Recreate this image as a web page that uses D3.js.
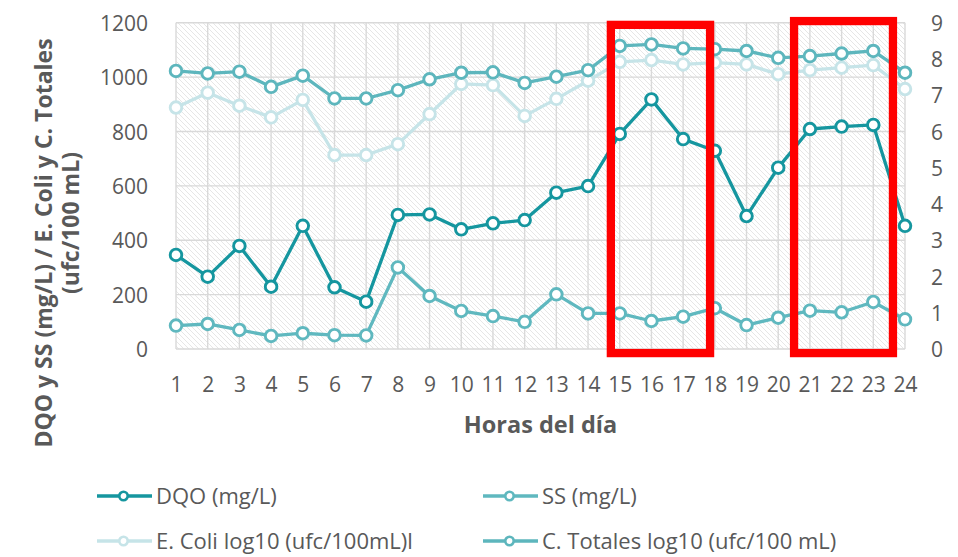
<!DOCTYPE html>
<html>
<head>
<meta charset="utf-8">
<script src="https://cdn.jsdelivr.net/npm/d3@7"></script>
<style>
  body { margin: 0; background: #fff; }
  text { font-family: "Open Sans", sans-serif; fill: #595959; }
</style>
</head>
<body>
<div id="chart"></div>
<script>
// data
const hours = d3.range(1, 25);
const dqo = [346, 266, 379, 229, 453, 227, 174, 493, 495, 440, 462, 474,
             575, 599, 791, 918, 772, 729, 489, 667, 809, 818, 824, 453];
const ss = [86, 92, 70, 48, 58, 51, 50, 300, 195, 140, 121, 100,
            201, 131, 131, 103, 119, 150, 88, 115, 141, 135, 173, 109];
const eColi = [6.66, 7.07, 6.71, 6.39, 6.87, 5.35, 5.35, 5.65, 6.48, 7.31, 7.28, 6.43,
               6.90, 7.40, 7.92, 7.97, 7.85, 7.90, 7.85, 7.58, 7.69, 7.76, 7.83, 7.17];
const cTotales = [7.67, 7.60, 7.65, 7.23, 7.54, 6.91, 6.91, 7.14, 7.44, 7.62, 7.63, 7.34,
                  7.51, 7.69, 8.36, 8.40, 8.29, 8.27, 8.22, 8.03, 8.08, 8.15, 8.22, 7.62];
const leftTicks = [0, 200, 400, 600, 800, 1000, 1200];
const rightTicks = [0, 1, 2, 3, 4, 5, 6, 7, 8, 9];
// red highlight boxes: [hour from, hour to, top (left axis units)]
const boxes = [[14.72, 17.85, 1192], [20.5, 23.62, 1206]];
const boxBottom = -15;

const series = [
  { name: "DQO (mg/L)", values: dqo, axis: "left", color: "#15969f" },
  { name: "SS (mg/L)", values: ss, axis: "left", color: "#5fb8bf" },
  { name: "E. Coli log10 (ufc/100mL)l", values: eColi, axis: "right", color: "#c6e4e8" },
  { name: "C. Totales log10 (ufc/100 mL)", values: cTotales, axis: "right", color: "#5db6bd" }
];

// dimensions
const w = 958;
const h = 557;
const plotLeft = 176;
const plotRight = 905;
const plotTop = 22.7;
const plotBot = 349;

const svg = d3.select("#chart")
  .append("svg")
  .attr("width", w)
  .attr("height", h);

// scales
const xScale = d3.scaleLinear().domain([1, 24]).range([plotLeft, plotRight]);
const yLeft = d3.scaleLinear().domain([0, 1200]).range([plotBot, plotTop]);
const yRight = d3.scaleLinear().domain([0, 9]).range([plotBot, plotTop]);

// hatched background
const pat = svg.append("defs").append("pattern")
  .attr("id", "hatch")
  .attr("patternUnits", "userSpaceOnUse")
  .attr("width", 5)
  .attr("height", 5);
pat.append("rect").attr("width", 5).attr("height", 5).attr("fill", "#fff");
pat.append("path")
  .attr("d", "M0,0L5,5M-1,4L1,6M4,-1L6,1")
  .attr("stroke", "#e6e6e6")
  .attr("stroke-width", 1);

svg.append("rect")
  .attr("x", plotLeft)
  .attr("y", plotTop)
  .attr("width", plotRight - plotLeft)
  .attr("height", plotBot - plotTop)
  .attr("fill", "url(#hatch)");

// gridlines
svg.append("g")
  .selectAll("line")
  .data(leftTicks)
  .enter()
  .append("line")
  .attr("x1", plotLeft)
  .attr("x2", plotRight)
  .attr("y1", d => yLeft(d))
  .attr("y2", d => yLeft(d))
  .attr("stroke", "#d9d9d9")
  .attr("stroke-width", 1.4);
svg.append("g")
  .selectAll("line")
  .data(hours)
  .enter()
  .append("line")
  .attr("x1", d => xScale(d))
  .attr("x2", d => xScale(d))
  .attr("y1", plotTop)
  .attr("y2", plotBot)
  .attr("stroke", "#d9d9d9")
  .attr("stroke-width", 1.4);

// axes (labels only, no domain/ticks)
const xAxis = d3.axisBottom(xScale).tickValues(hours).tickSize(0).tickPadding(0).tickFormat(d3.format("d"));
const xg = svg.append("g").attr("transform", `translate(0, 392)`).call(xAxis);
const yAxisL = d3.axisLeft(yLeft).tickValues(leftTicks).tickSize(0).tickPadding(0).tickFormat(d3.format("d"));
const ylg = svg.append("g").attr("transform", `translate(148, 0)`).call(yAxisL);
const yAxisR = d3.axisRight(yRight).tickValues(rightTicks).tickSize(0).tickPadding(0).tickFormat(d3.format("d"));
const yrg = svg.append("g").attr("transform", `translate(931, 0)`).call(yAxisR);
[xg, ylg, yrg].forEach(g => {
  g.select(".domain").remove();
  g.selectAll("text")
    .style("font-size", "21px")
    .attr("fill", "#595959");
});
xg.selectAll("text").attr("dy", 0);
ylg.selectAll("text").attr("dy", "0.36em");
yrg.selectAll("text").attr("dy", "0.36em");

// axis titles
svg.append("text")
  .text("Horas del día")
  .attr("x", (plotLeft + plotRight) / 2)
  .attr("y", 433)
  .attr("text-anchor", "middle")
  .style("font-size", "23.5px")
  .style("font-weight", "bold");
svg.append("text")
  .text("DQO y SS (mg/L) / E. Coli y C. Totales")
  .attr("transform", "translate(52, 243) rotate(-90)")
  .attr("text-anchor", "middle")
  .style("font-size", "23px")
  .style("font-weight", "bold");
svg.append("text")
  .text("(ufc/100 mL)")
  .attr("transform", "translate(79, 223) rotate(-90)")
  .attr("text-anchor", "middle")
  .style("font-size", "23px")
  .style("font-weight", "bold");

// lines + markers
series.forEach(s => {
  const yS = s.axis === "left" ? yLeft : yRight;
  const line = d3.line()
    .x((d, i) => xScale(hours[i]))
    .y(d => yS(d));
  svg.append("path")
    .datum(s.values)
    .attr("d", line)
    .attr("fill", "none")
    .attr("stroke", s.color)
    .attr("stroke-width", 3.3)
    .attr("stroke-linejoin", "round");
  svg.append("g")
    .selectAll("circle")
    .data(s.values)
    .enter()
    .append("circle")
    .attr("cx", (d, i) => xScale(hours[i]))
    .attr("cy", d => yS(d))
    .attr("r", 5.8)
    .attr("fill", "#fff")
    .attr("stroke", s.color)
    .attr("stroke-width", 2.9);
});

// red highlight boxes
svg.append("g")
  .selectAll("rect")
  .data(boxes)
  .enter()
  .append("rect")
  .attr("x", d => xScale(d[0]))
  .attr("y", d => yLeft(d[2]))
  .attr("width", d => xScale(d[1]) - xScale(d[0]))
  .attr("height", d => yLeft(boxBottom) - yLeft(d[2]))
  .attr("fill", "none")
  .attr("stroke", "#ff0000")
  .attr("stroke-width", 8.3);

// legend
const legendPos = [[97, 496], [483, 496], [97, 541], [483, 541]];
series.forEach((s, i) => {
  const [lx, ly] = legendPos[i];
  const g = svg.append("g").attr("transform", `translate(${lx}, ${ly})`);
  g.append("line")
    .attr("x1", 0).attr("x2", 55)
    .attr("y1", 0).attr("y2", 0)
    .attr("stroke", s.color)
    .attr("stroke-width", 3.3);
  g.append("circle")
    .attr("cx", 26.5).attr("cy", 0).attr("r", 4.2)
    .attr("fill", "#fff")
    .attr("stroke", s.color)
    .attr("stroke-width", 2.6);
  g.append("text")
    .text(s.name)
    .attr("x", 59)
    .attr("y", 0)
    .attr("dy", "0.36em")
    .style("font-size", "22px");
});
</script>
</body>
</html>
